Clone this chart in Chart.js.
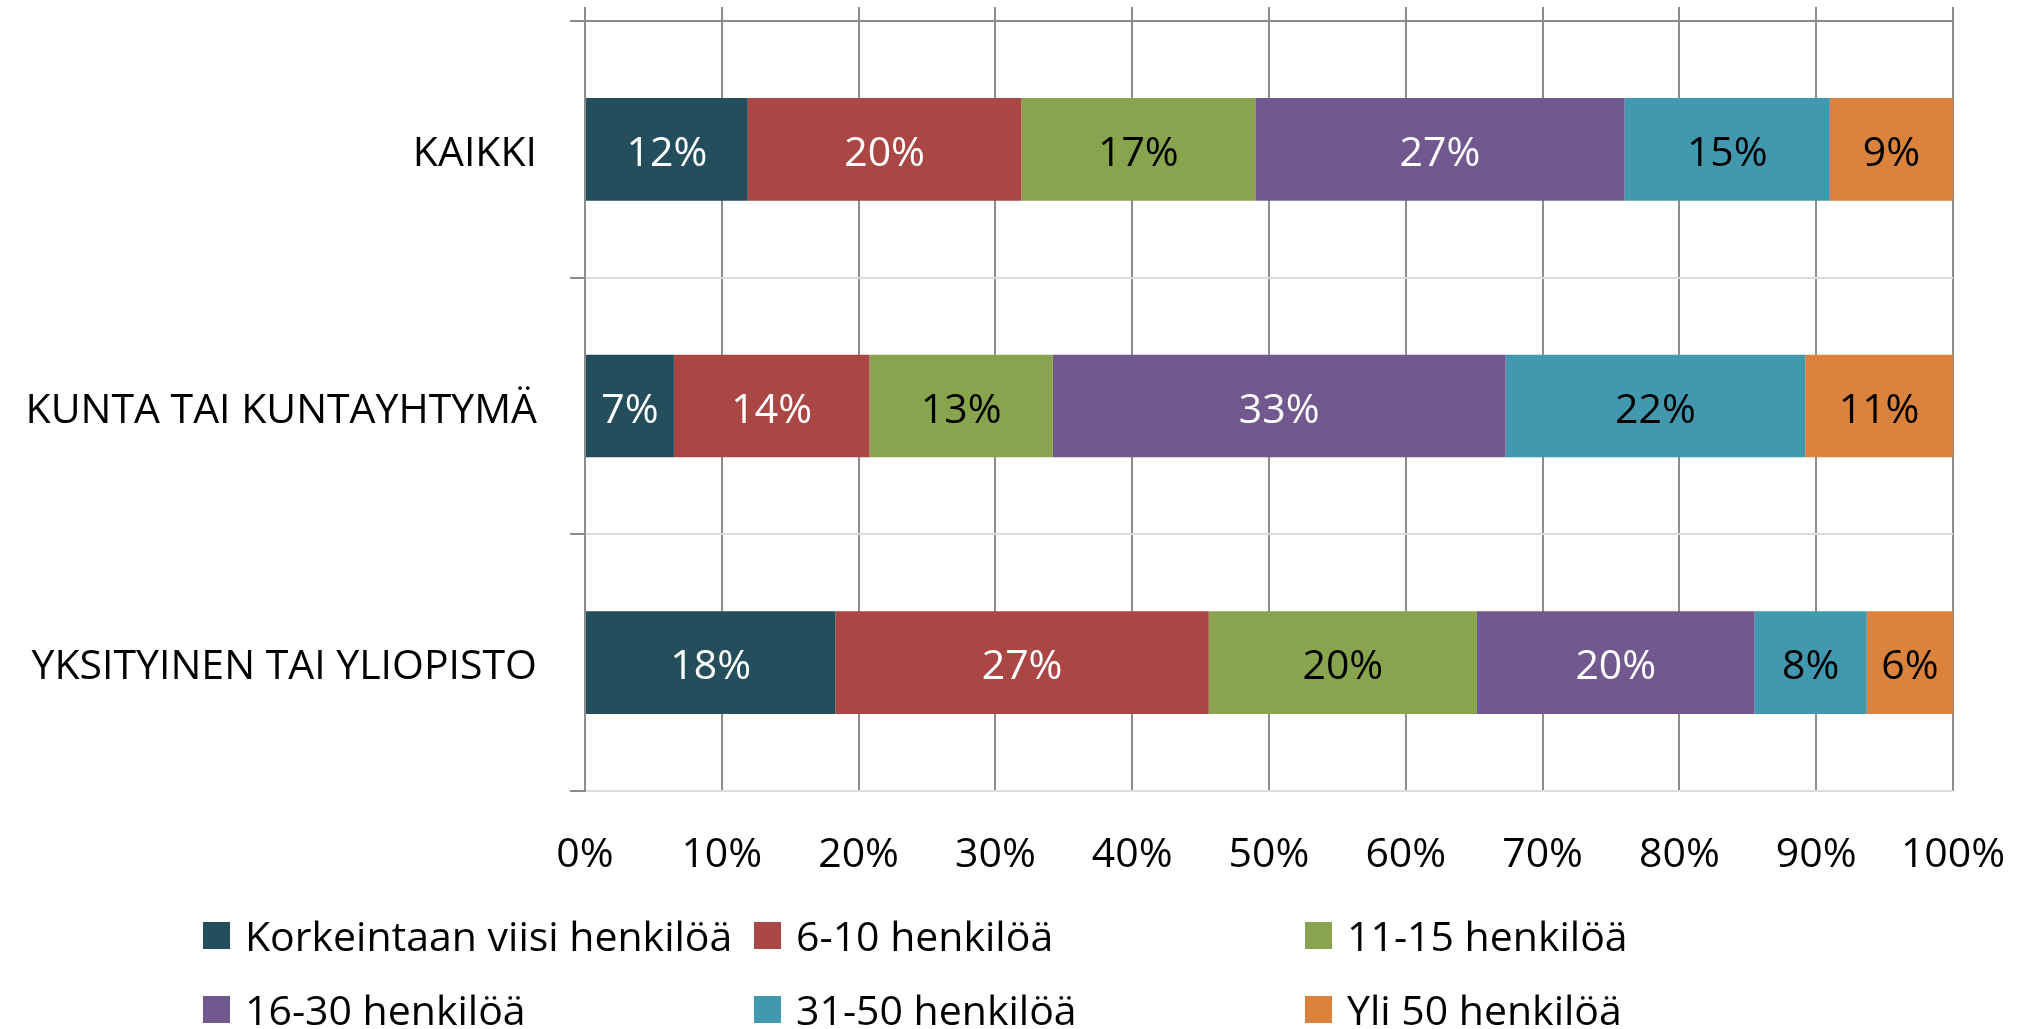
<!DOCTYPE html>
<html>
<head>
<meta charset="utf-8">
<script src="https://cdn.jsdelivr.net/npm/chart.js@4/dist/chart.umd.min.js"></script>
<style>
  html, body { margin: 0; padding: 0; background: #ffffff; overflow: hidden; }
  #wrap { position: relative; width: 2031px; height: 1029px; }
  #c { position: absolute; left: 0; top: 0; }
  #legend { position: absolute; left: 203px; top: 910px; width: 1700px;
            display: grid; grid-template-columns: 551px 551px 551px; grid-auto-rows: 74px;
            font-family: "Open Sans", sans-serif; font-size: 41px; color: #000; }
  .item { display: flex; align-items: center; height: 50px; line-height: 50px; white-space: nowrap; }
  .sw { width: 27px; height: 27px; margin-right: 15px; flex: none; }
</style>
</head>
<body>
<div id="wrap">
  <canvas id="c" width="2031" height="1029"></canvas>
  <div id="legend"></div>
</div>
<script>
// ---- data ----
const categories = ["KAIKKI", "KUNTA TAI KUNTAYHTYMÄ", "YKSITYINEN TAI YLIOPISTO"];
const seriesNames = ["Korkeintaan viisi henkilöä", "6-10 henkilöä", "11-15 henkilöä", "16-30 henkilöä", "31-50 henkilöä", "Yli 50 henkilöä"];
const upTo5   = [11.9, 6.5, 18.3];
const s6to10  = [20.0, 14.3, 27.3];
const s11to15 = [17.1, 13.4, 19.6];
const s16to30 = [27.0, 33.1, 20.3];
const s31to50 = [15.0, 21.9, 8.2];
const over50  = [9.0, 10.8, 6.3];
const xTicks = [0, 10, 20, 30, 40, 50, 60, 70, 80, 90, 100];

const seriesValues = [upTo5, s6to10, s11to15, s16to30, s31to50, over50];
const seriesColors = ["#254E5C", "#AA4744", "#89A44F", "#71588F", "#4298AF", "#DB833D"];
const labelColors  = ["#ffffff", "#ffffff", "#000000", "#ffffff", "#000000", "#000000"];

const FONT = '"Open Sans", sans-serif';
const GRID_DARK = "#8c8c8c";
const GRID_LIGHT = "#dcdcdc";

const datasets = seriesNames.map((name, i) => ({
  label: name,
  data: seriesValues[i],
  backgroundColor: seriesColors[i],
  borderWidth: 0,
  barPercentage: 0.4,
  categoryPercentage: 1.0
}));

const barLabels = {
  id: 'barLabels',
  afterDatasetsDraw(chart) {
    const ctx = chart.ctx;
    ctx.save();
    ctx.font = '41px ' + FONT;
    ctx.textAlign = 'center';
    ctx.textBaseline = 'middle';
    chart.data.datasets.forEach((ds, di) => {
      const meta = chart.getDatasetMeta(di);
      meta.data.forEach((el, i) => {
        const v = ds.data[i];
        const cx = (el.x + el.base) / 2;
        ctx.fillStyle = labelColors[di];
        ctx.fillText(Math.round(v) + '%', cx, el.y + 5);
      });
    });
    ctx.restore();
  }
};

function noPad(scale) {
  scale.paddingLeft = 0; scale.paddingRight = 0;
  scale.paddingTop = 0; scale.paddingBottom = 0;
}

const chart = new Chart(document.getElementById('c'), {
  type: 'bar',
  data: { labels: categories, datasets },
  options: {
    indexAxis: 'y',
    responsive: false,
    animation: false,
    layout: { padding: { left: 0, right: 78, top: 7, bottom: 138 } },
    plugins: { legend: { display: false }, tooltip: { enabled: false } },
    scales: {
      x: {
        type: 'linear', position: 'bottom', stacked: true,
        min: 0, max: 100,
        afterBuildTicks: (scale) => { scale.ticks = xTicks.map(v => ({ value: v })); },
        afterFit: (scale) => { scale.height = 100; noPad(scale); },
        grid: { color: GRID_DARK, lineWidth: 2, drawTicks: false },
        border: { display: false },
        ticks: { color: '#000', padding: 40, font: { family: FONT, size: 41 }, callback: v => v + '%' }
      },
      xTop: {
        type: 'linear', position: 'top',
        min: 0, max: 100,
        afterBuildTicks: (scale) => { scale.ticks = xTicks.map(v => ({ value: v })); },
        afterFit: (scale) => { scale.height = 14; noPad(scale); },
        grid: { drawOnChartArea: false, drawTicks: true, tickLength: 14, tickColor: GRID_DARK, lineWidth: 2, color: GRID_DARK },
        border: { display: false },
        ticks: { display: false }
      },
      y: {
        type: 'category', stacked: true, offset: true,
        afterFit: (scale) => { scale.width = 585; noPad(scale); },
        grid: {
          offset: true, lineWidth: 2, tickLength: 15, tickColor: GRID_DARK,
          color: (c) => c.index === 0 ? GRID_DARK : GRID_LIGHT
        },
        border: { display: true, color: GRID_DARK, width: 2 },
        ticks: { color: '#000', padding: 33, labelOffset: 5, font: { family: FONT, size: 41 } }
      }
    }
  },
  plugins: [barLabels]
});

// HTML legend built from chart datasets
const legendEl = document.getElementById('legend');
chart.data.datasets.forEach(ds => {
  const item = document.createElement('div');
  item.className = 'item';
  const sw = document.createElement('span');
  sw.className = 'sw';
  sw.style.background = ds.backgroundColor;
  const tx = document.createElement('span');
  tx.textContent = ds.label;
  item.appendChild(sw);
  item.appendChild(tx);
  legendEl.appendChild(item);
});
</script>
</body>
</html>
